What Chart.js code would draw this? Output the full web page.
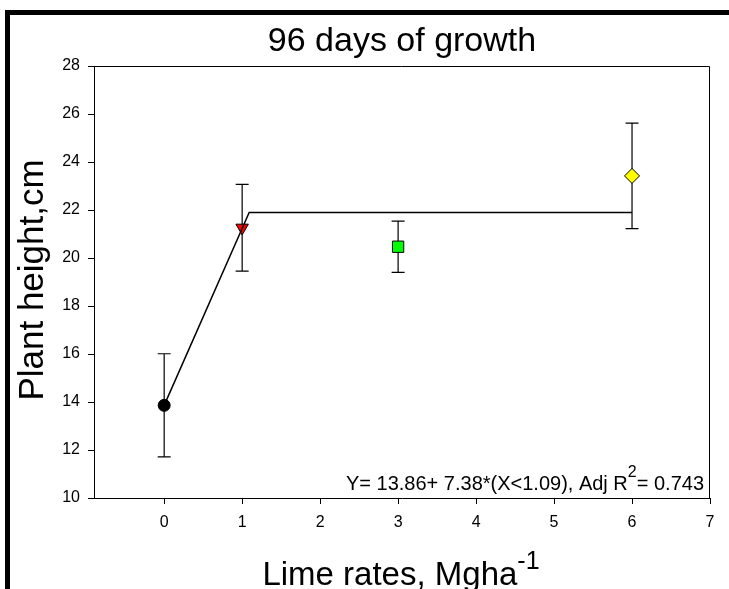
<!DOCTYPE html>
<html>
<head>
<meta charset="utf-8">
<script src="https://cdn.jsdelivr.net/npm/chart.js@4/dist/chart.umd.min.js"></script>
<style>
  html, body { margin: 0; padding: 0; background: #ffffff; }
  canvas { display: block; }
</style>
</head>
<body>
<canvas id="growthChart" width="729" height="589"></canvas>
<script>
// Lime rate treatments (Mg ha-1) and mean plant height after 96 days
const limeRates = [0, 1, 3, 6];
const heightMeans = [13.86, 21.26, 20.47, 23.42];
const heightErrors = [2.15, 1.81, 1.07, 2.20];

// Linear-plateau fit: Y = 13.86 + 7.38*(X<1.09)
const fitX = [0, 1.09, 6];
const fitY = [13.86, 21.90, 21.90];

const xTickValues = [0, 1, 2, 3, 4, 5, 6, 7];
const yTickValues = [10, 12, 14, 16, 18, 20, 22, 24, 26, 28];

const markerShapes = ['circle', 'triangle', 'rect', 'rectRot'];
const markerRotations = [0, 180, 0, 0];
const markerFills = ['#000000', '#ff0000', '#00ff00', '#ffff00'];
const markerSizes = [6, 7.2, 8, 7.5];

const titleText = '96 days of growth';
const yTitleText = 'Plant height,cm';
const xTitleText = 'Lime rates, Mgha';
const xTitleSup = '-1';
const fitLabelMain = 'Y= 13.86+ 7.38*(X<1.09), Adj R';
const fitLabelSup = '2';
const fitLabelTail = '= 0.743';

const FONT = '"Liberation Sans", Arial, Helvetica, sans-serif';

const fitDataset = {
  type: 'line',
  data: fitX.map((x, i) => ({ x: x, y: fitY[i] })),
  borderColor: '#000000',
  borderWidth: 1.5,
  pointRadius: 0,
  fill: false,
  tension: 0
};

const pointDatasets = limeRates.map((x, i) => ({
  type: 'scatter',
  data: [{ x: x, y: heightMeans[i] }],
  pointStyle: markerShapes[i],
  rotation: markerRotations[i],
  radius: markerSizes[i],
  backgroundColor: markerFills[i],
  borderColor: '#000000',
  borderWidth: 1
}));

const decorations = {
  id: 'decorations',
  beforeDraw(chart) {
    const ctx = chart.ctx;
    ctx.save();
    ctx.fillStyle = '#ffffff';
    ctx.fillRect(0, 0, chart.width, chart.height);
    ctx.fillStyle = '#000000';
    ctx.fillRect(5, 10, 5, chart.height - 10);
    ctx.fillRect(5, 10, chart.width - 5, 5);
    ctx.restore();
  },
  beforeDatasetsDraw(chart) {
    const ctx = chart.ctx;
    const xs = chart.scales.x, ys = chart.scales.y;
    ctx.save();
    ctx.strokeStyle = '#000000';
    ctx.lineWidth = 1.2;
    limeRates.forEach((x, i) => {
      const px = xs.getPixelForValue(x);
      const top = ys.getPixelForValue(heightMeans[i] + heightErrors[i]);
      const bot = ys.getPixelForValue(heightMeans[i] - heightErrors[i]);
      const cap = 6.5;
      ctx.beginPath();
      ctx.moveTo(px, top); ctx.lineTo(px, bot);
      ctx.moveTo(px - cap, top); ctx.lineTo(px + cap, top);
      ctx.moveTo(px - cap, bot); ctx.lineTo(px + cap, bot);
      ctx.stroke();
    });
    ctx.restore();
  },
  afterDraw(chart) {
    const ctx = chart.ctx;
    const a = chart.chartArea;
    ctx.save();
    // top and right edges of the plot frame
    ctx.strokeStyle = '#000000';
    ctx.lineWidth = 1;
    ctx.beginPath();
    ctx.moveTo(a.left, Math.round(a.top) + 0.5);
    ctx.lineTo(Math.round(a.right) - 0.5, Math.round(a.top) + 0.5);
    ctx.lineTo(Math.round(a.right) - 0.5, a.bottom);
    ctx.stroke();

    ctx.fillStyle = '#000000';
    // chart title
    ctx.font = '34px ' + FONT;
    ctx.textAlign = 'center';
    ctx.textBaseline = 'alphabetic';
    ctx.fillText(titleText, 402, 51);

    // y axis title
    ctx.save();
    ctx.translate(33, 280);
    ctx.rotate(-Math.PI / 2);
    ctx.font = '35px ' + FONT;
    ctx.textAlign = 'center';
    ctx.textBaseline = 'middle';
    ctx.fillText(yTitleText, 0, 0);
    ctx.restore();

    // x axis title with superscript
    ctx.textAlign = 'left';
    ctx.font = '33px ' + FONT;
    const w1 = ctx.measureText(xTitleText).width;
    ctx.font = '25px ' + FONT;
    const w2 = ctx.measureText(xTitleSup).width;
    const startX = 401 - (w1 + w2) / 2;
    ctx.font = '33px ' + FONT;
    ctx.fillText(xTitleText, startX, 585);
    ctx.font = '25px ' + FONT;
    ctx.fillText(xTitleSup, startX + w1, 569);

    // fit equation, right aligned inside the plot
    ctx.font = '20px ' + FONT;
    const wt = ctx.measureText(fitLabelTail).width;
    const wm = ctx.measureText(fitLabelMain).width;
    ctx.font = '16px ' + FONT;
    const ws = ctx.measureText(fitLabelSup).width;
    const right = 704;
    const bx = right - wt - ws - wm;
    ctx.font = '20px ' + FONT;
    ctx.fillText(fitLabelMain, bx, 490);
    ctx.fillText(fitLabelTail, bx + wm + ws, 490);
    ctx.font = '16px ' + FONT;
    ctx.fillText(fitLabelSup, bx + wm, 477);
    ctx.restore();
  }
};

new Chart(document.getElementById('growthChart'), {
  data: { datasets: [fitDataset, ...pointDatasets] },
  options: {
    responsive: false,
    animation: false,
    devicePixelRatio: 1,
    layout: { padding: { left: 0, top: 66, right: 19, bottom: 0 } },
    plugins: {
      legend: { display: false },
      tooltip: { enabled: false },
      title: { display: false }
    },
    scales: {
      x: {
        type: 'linear',
        min: -0.9,
        max: 7,
        afterBuildTicks(scale) { scale.ticks = xTickValues.map(v => ({ value: v })); },
        afterFit(scale) { scale.height = 91; },
        ticks: { color: '#000000', font: { family: FONT, size: 16 }, padding: 9, maxRotation: 0, autoSkip: false },
        grid: { drawOnChartArea: false, drawTicks: true, tickLength: 6, color: '#000000' },
        border: { display: true, color: '#000000', width: 1 }
      },
      y: {
        type: 'linear',
        min: 10,
        max: 28,
        afterBuildTicks(scale) { scale.ticks = yTickValues.map(v => ({ value: v })); },
        afterFit(scale) { scale.width = 94; },
        ticks: { color: '#000000', font: { family: FONT, size: 16 }, padding: 8 },
        grid: { drawOnChartArea: false, drawTicks: true, tickLength: 6, color: '#000000' },
        border: { display: true, color: '#000000', width: 1 }
      }
    }
  },
  plugins: [decorations]
});
</script>
</body>
</html>
